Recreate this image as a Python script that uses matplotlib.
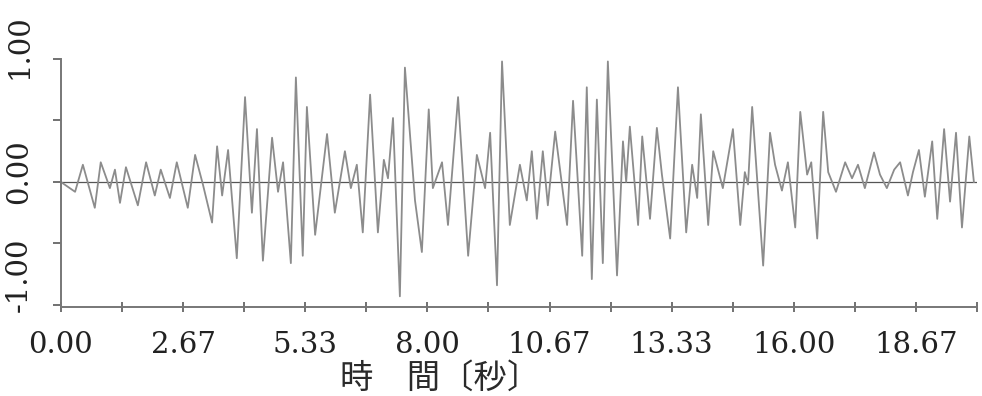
import matplotlib
matplotlib.use("Agg")
import matplotlib.pyplot as plt
import matplotlib.transforms as mtransforms
from matplotlib.ticker import MultipleLocator, FormatStrFormatter

# peaks / troughs of the record
time_s = [
    0.00, 0.31, 0.48, 0.74, 0.87, 1.07, 1.18, 1.29, 1.42, 1.68,
    1.86, 2.05, 2.18, 2.38, 2.53, 2.77, 2.93, 3.10, 3.30, 3.41,
    3.52, 3.65, 3.84, 4.02, 4.17, 4.28, 4.41, 4.61, 4.74, 4.85,
    5.02, 5.13, 5.28, 5.37, 5.55, 5.81, 5.98, 6.20, 6.33, 6.46,
    6.59, 6.75, 6.92, 7.05, 7.14, 7.25, 7.40, 7.51, 7.73, 7.88,
    8.03, 8.12, 8.32, 8.45, 8.67, 8.89, 9.08, 9.26, 9.37, 9.52,
    9.63, 9.80, 10.02, 10.17, 10.28, 10.39, 10.52, 10.63, 10.79, 11.05,
    11.18, 11.38, 11.48, 11.59, 11.70, 11.83, 11.94, 12.14, 12.27, 12.34,
    12.42, 12.60, 12.69, 12.86, 13.01, 13.12, 13.30, 13.47, 13.65, 13.78,
    13.89, 13.97, 14.13, 14.24, 14.45, 14.67, 14.83, 14.93, 15.00, 15.09,
    15.33, 15.48, 15.59, 15.74, 15.87, 16.03, 16.14, 16.29, 16.38, 16.51,
    16.64, 16.75, 16.92, 17.12, 17.27, 17.40, 17.55, 17.75, 17.88, 18.03,
    18.19, 18.32, 18.49, 18.60, 18.73, 18.86, 19.02, 19.13, 19.28, 19.41,
    19.54, 19.67, 19.83, 19.93,
]
amplitude = [
    0.00, -0.08, 0.14, -0.21, 0.16, -0.05, 0.10, -0.17, 0.12, -0.19,
    0.16, -0.11, 0.10, -0.13, 0.16, -0.21, 0.22, -0.02, -0.33, 0.29,
    -0.11, 0.26, -0.62, 0.69, -0.25, 0.43, -0.64, 0.36, -0.08, 0.16,
    -0.66, 0.85, -0.60, 0.61, -0.43, 0.39, -0.25, 0.25, -0.05, 0.14,
    -0.41, 0.71, -0.41, 0.18, 0.03, 0.52, -0.93, 0.93, -0.15, -0.57,
    0.59, -0.05, 0.16, -0.35, 0.69, -0.60, 0.22, -0.05, 0.40, -0.84,
    0.98, -0.35, 0.14, -0.15, 0.25, -0.30, 0.25, -0.19, 0.41, -0.35,
    0.66, -0.60, 0.77, -0.79, 0.67, -0.66, 0.98, -0.76, 0.33, 0.00,
    0.45, -0.35, 0.37, -0.30, 0.44, 0.06, -0.46, 0.77, -0.41, 0.14,
    -0.13, 0.55, -0.35, 0.25, -0.05, 0.43, -0.35, 0.08, -0.02, 0.61,
    -0.68, 0.40, 0.14, -0.07, 0.16, -0.37, 0.57, 0.06, 0.16, -0.46,
    0.57, 0.08, -0.08, 0.16, 0.03, 0.14, -0.05, 0.24, 0.06, -0.05,
    0.10, 0.16, -0.11, 0.08, 0.26, -0.12, 0.33, -0.30, 0.43, -0.16,
    0.40, -0.37, 0.37, 0.00,
]
y_ticks = [-1.0, -0.5, 0.0, 0.5, 1.0]
y_labels = ["-1.00", "", "0.00", "", "1.00"]
x_label = "時　間〔秒〕"

fig = plt.figure(figsize=(9.82, 3.96), dpi=100)
ax = fig.add_axes([0.062, 0.225, 0.933, 0.626])

ax.axhline(0, color="#555555", lw=0.9, zorder=1)
ax.plot(time_s, amplitude, color="#8c8c8c", lw=1.3, zorder=2)

ax.set_xlim(0, 20.0)
ax.set_ylim(-1.016, 1.0)

for side in ["top", "right"]:
    ax.spines[side].set_visible(False)
for side in ["left", "bottom"]:
    ax.spines[side].set_color("#777777")
    ax.spines[side].set_linewidth(1.4)

ax.xaxis.set_major_locator(MultipleLocator(8 / 3))
ax.xaxis.set_minor_locator(MultipleLocator(4 / 3))
ax.xaxis.set_major_formatter(FormatStrFormatter("%.2f"))
ax.tick_params(axis="x", which="both", direction="inout", length=7,
               width=1.3, color="#666666", pad=14)
ax.tick_params(axis="x", labelsize=21, labelcolor="#222222")

ax.set_yticks(y_ticks)
ax.set_yticklabels(y_labels, rotation=90, va="center")
ax.tick_params(axis="y", direction="out", length=6, width=1.3,
               color="#666666", pad=14, labelsize=21, labelcolor="#222222")

for lab in ax.get_xticklabels() + ax.get_yticklabels():
    lab.set_fontfamily("DejaVu Serif")

# nudge labels the way they sit in the scan
xl = ax.get_xticklabels()
xl[0].set_transform(xl[0].get_transform()
                    + mtransforms.ScaledTranslation(0.19, 0, fig.dpi_scale_trans))
y_shift = {"-1.00": 0.30, "0.00": 0.10, "1.00": 0.12}
for lab in ax.get_yticklabels():
    dy = y_shift.get(lab.get_text(), 0)
    lab.set_transform(lab.get_transform()
                      + mtransforms.ScaledTranslation(0, dy, fig.dpi_scale_trans))

fig.text(340 / 982, 0.088, x_label, fontsize=24, va="top", ha="left",
         color="#2a2a2a", family=["Noto Sans CJK JP", "DejaVu Sans"])

fig.savefig("out.png", dpi=100)
